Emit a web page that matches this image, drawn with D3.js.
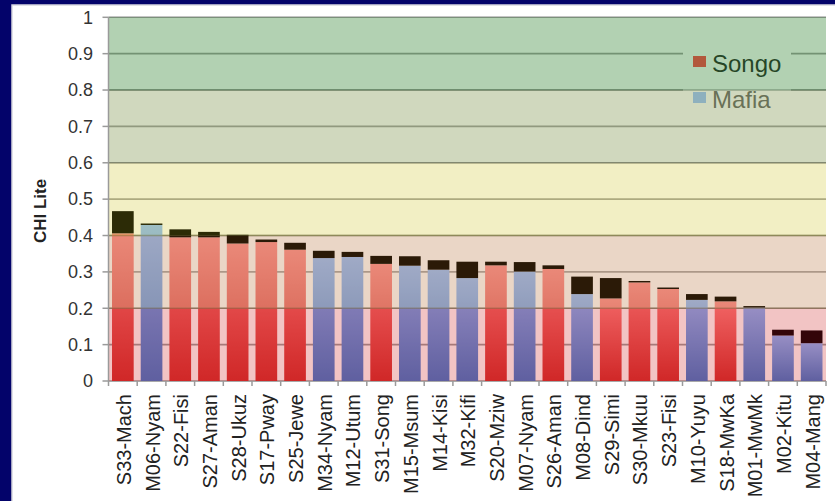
<!DOCTYPE html>
<html>
<head>
<meta charset="utf-8">
<script src="https://cdn.jsdelivr.net/npm/d3@7/dist/d3.min.js"></script>
<style>
  html, body { margin: 0; padding: 0; background: #03036a; }
  svg { display: block; }
  text { font-family: "Liberation Sans", Arial, Helvetica, sans-serif; }
</style>
</head>
<body>
<svg id="chart" width="835" height="501"></svg>
<script>
// Sites, ordered by score
const sites = ["S33-Mach","M06-Nyam","S22-Fisi","S27-Aman","S28-Ukuz","S17-Pway","S25-Jewe",
  "M34-Nyam","M12-Utum","S31-Song","M15-Msum","M14-Kisi","M32-Kifi","S20-Mziw","M07-Nyam",
  "S26-Aman","M08-Dind","S29-Simi","S30-Mkuu","S23-Fisi","M10-Yuyu","S18-MwKa","M01-MwMk",
  "M02-Kitu","M04-Mang"];
const district = ["Songo","Mafia","Songo","Songo","Songo","Songo","Songo",
  "Mafia","Mafia","Songo","Mafia","Mafia","Mafia","Songo","Mafia",
  "Songo","Mafia","Songo","Songo","Songo","Mafia","Songo","Mafia",
  "Mafia","Mafia"];
// CHI Lite score per site
const score = [0.406,0.429,0.395,0.395,0.378,0.382,0.361,
  0.338,0.341,0.322,0.317,0.306,0.283,0.318,0.301,
  0.308,0.239,0.227,0.271,0.253,0.223,0.219,0.202,
  0.125,0.104];
// extra portion stacked on top of each score (dark segment)
const extra = [0.061,0.004,0.022,0.015,0.024,0.007,0.019,
  0.020,0.014,0.022,0.026,0.026,0.045,0.010,0.026,
  0.010,0.048,0.056,0.004,0.004,0.016,0.013,0.004,
  0.016,0.035];
const seriesNames = ["Songo","Mafia"];
const yTicks = [0,0.1,0.2,0.3,0.4,0.5,0.6,0.7,0.8,0.9,1];
// rating bands on the CHI Lite scale
const bandLow  = [0, 0.2, 0.4, 0.6, 0.8];
const bandHigh = [0.2, 0.4, 0.6, 0.8, 1];

// styles
const bandTint = ["rgb(218,86,86)","rgb(210,167,133)","rgb(222,215,107)","rgb(151,168,111)","rgb(84,153,84)"];
const bandAlpha = [0.35, 0.466, 0.4, 0.45, 0.45];
const capTint = ["#330509","#2b1a07","#2c2b06","#222","#222"];
const edgeTint = ["rgba(160,50,50,0.45)","rgba(120,100,60,0.45)","rgba(110,110,40,0.45)","rgba(110,115,95,0.45)","rgba(80,110,80,0.5)"];
const seriesGrad = {
  Songo: ["rgb(255,110,110)","rgb(203,15,15)"],
  Mafia: ["rgb(116,173,255)","rgb(30,101,200)"]
};
const swatch = { Songo: "rgb(255,35,40)", Mafia: "rgb(136,182,255)" };

const svg = d3.select("#chart");
const W = 835, H = 501;
const plotL = 108.5, plotR = 826, plotT = 17.3, plotB = 381;

// frame
svg.append("rect").attr("width", W).attr("height", H).attr("fill", "#03036a");
svg.append("rect").attr("x", 12).attr("y", 5).attr("width", W).attr("height", H)
  .attr("fill", "#ffffff").attr("stroke", "#d8d8e0").attr("stroke-width", 1.5);

const x = d3.scaleBand().domain(sites).range([plotL, plotR]).paddingInner(0.245).paddingOuter(0.1225);
const y = d3.scaleLinear().domain([0, 1]).range([plotB, plotT]);

const defs = svg.append("defs");
seriesNames.forEach(s => {
  const g = defs.append("linearGradient").attr("id", "grad-" + s)
    .attr("x1", 0).attr("y1", 0).attr("x2", 0).attr("y2", 1);
  g.append("stop").attr("offset", "0%").attr("stop-color", seriesGrad[s][0]);
  g.append("stop").attr("offset", "100%").attr("stop-color", seriesGrad[s][1]);
});
bandLow.forEach((lo, i) => {
  defs.append("clipPath").attr("id", "band-clip-" + i)
    .append("rect").attr("x", plotL).attr("width", plotR - plotL)
    .attr("y", y(bandHigh[i])).attr("height", y(lo) - y(bandHigh[i]));
});

// gridlines (under the bars)
svg.append("g").selectAll("line").data(yTicks).join("line")
  .attr("x1", plotL).attr("x2", plotR)
  .attr("y1", d => y(d)).attr("y2", d => y(d))
  .attr("stroke", "rgb(140,140,140)").attr("stroke-width", 1.6);

// score bars
svg.append("g").selectAll("rect").data(sites).join("rect")
  .attr("x", d => x(d)).attr("width", x.bandwidth())
  .attr("y", (d, i) => y(score[i]))
  .attr("height", (d, i) => y(0) - y(score[i]))
  .attr("fill", (d, i) => "url(#grad-" + district[i] + ")");

// legend
const leg = svg.append("g");
leg.append("rect").attr("x", 683).attr("y", 42).attr("width", 108).attr("height", 76).attr("fill", "#fff");
const legRows = leg.selectAll("g").data(seriesNames).join("g")
  .attr("transform", (d, i) => `translate(693,${56 + i * 36})`);
legRows.append("rect").attr("width", 13).attr("height", 11).attr("fill", d => swatch[d]);
legRows.append("text").attr("x", 19).attr("y", 16)
  .attr("font-size", 24).attr("fill", (d, i) => i === 0 ? "#000" : "#444").text(d => d);

// rating bands laid over the plot
svg.append("g").selectAll("rect").data(bandLow).join("rect")
  .attr("x", plotL).attr("width", plotR - plotL)
  .attr("y", (d, i) => y(bandHigh[i]))
  .attr("height", (d, i) => y(d) - y(bandHigh[i]))
  .attr("fill", (d, i) => bandTint[i]).attr("fill-opacity", (d, i) => bandAlpha[i]);
// band edges
svg.append("g").selectAll("line").data(bandLow.slice(1)).join("line")
  .attr("x1", plotL).attr("x2", plotR)
  .attr("y1", d => y(d)).attr("y2", d => y(d))
  .attr("stroke", (d, i) => edgeTint[i + 1]).attr("stroke-width", 1.5);

// dark top segments, tinted by the band they sit in
bandLow.forEach((lo, b) => {
  svg.append("g").attr("clip-path", `url(#band-clip-${b})`)
    .selectAll("rect").data(sites).join("rect")
    .attr("x", d => x(d)).attr("width", x.bandwidth())
    .attr("y", (d, i) => y(score[i] + extra[i]))
    .attr("height", (d, i) => y(score[i]) - y(score[i] + extra[i]))
    .attr("fill", capTint[b]);
});

// y axis
const yAxis = svg.append("g");
yAxis.append("line").attr("x1", plotL).attr("x2", plotL).attr("y1", plotT).attr("y2", plotB)
  .attr("stroke", "#9a9a9a").attr("stroke-width", 1.5);
yAxis.selectAll("line.tick").data(yTicks).join("line").attr("class", "tick")
  .attr("x1", plotL - 6).attr("x2", plotL).attr("y1", d => y(d)).attr("y2", d => y(d))
  .attr("stroke", "#9a9a9a").attr("stroke-width", 1.5);
yAxis.selectAll("text").data(yTicks).join("text")
  .attr("x", 93).attr("y", d => y(d)).attr("dy", "0.35em")
  .attr("text-anchor", "end").attr("font-size", 18).attr("fill", "#333")
  .text(d => d3.format("~g")(d));
svg.append("text")
  .attr("transform", `translate(46,211) rotate(-90)`)
  .attr("text-anchor", "middle").attr("font-size", 17).attr("font-weight", "bold").attr("fill", "#222")
  .text("CHI Lite");

// x axis
const step = x.step();
const xAxis = svg.append("g");
xAxis.selectAll("line").data(d3.range(sites.length + 1)).join("line")
  .attr("x1", i => plotL + i * step).attr("x2", i => plotL + i * step)
  .attr("y1", plotB).attr("y2", plotB + 5)
  .attr("stroke", "#9a9a9a").attr("stroke-width", 1.5);
xAxis.selectAll("text").data(sites).join("text")
  .attr("transform", d => `translate(${x(d) + x.bandwidth() / 2 + 1},394) rotate(-90)`)
  .attr("text-anchor", "end").attr("dy", "0.35em")
  .attr("font-size", 20).attr("fill", "#222")
  .text(d => d);
</script>
</body>
</html>
